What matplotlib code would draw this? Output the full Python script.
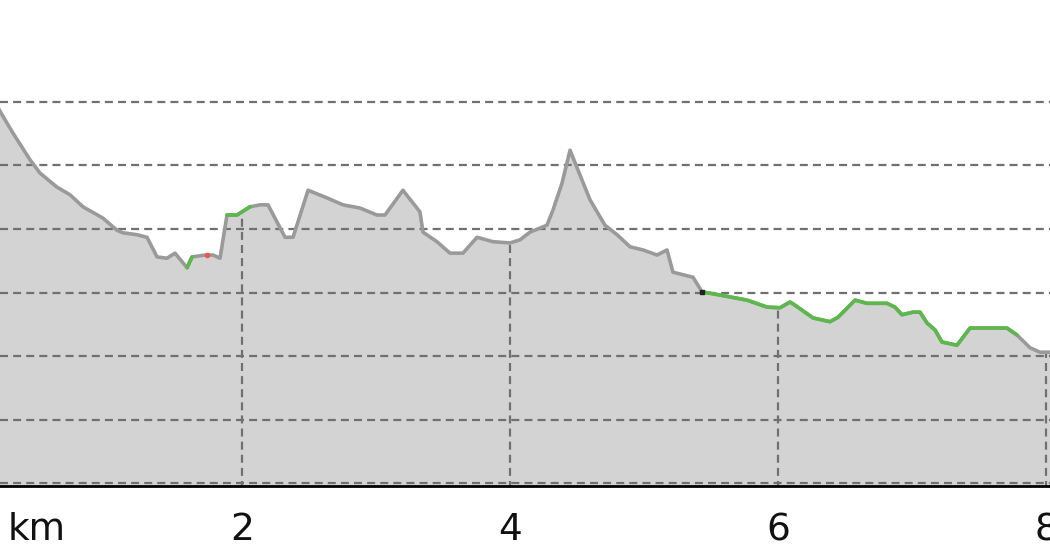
import numpy as np
import matplotlib
matplotlib.use("Agg")
import matplotlib.pyplot as plt

# elevation profile
km = [0.18, 0.209, 0.291, 0.418, 0.493, 0.619, 0.716, 0.813, 0.963, 1.067, 1.112,
      1.216, 1.291, 1.366, 1.440, 1.500, 1.590, 1.627, 1.724, 1.784, 1.836, 1.888,
      1.963, 2.060, 2.134, 2.194, 2.321, 2.381, 2.493, 2.634, 2.754, 2.881, 3.007,
      3.067, 3.201, 3.328, 3.351, 3.455, 3.552, 3.649, 3.754, 3.873, 4.000, 4.075,
      4.149, 4.276, 4.321, 4.388, 4.448, 4.507, 4.597, 4.709, 4.799, 4.896, 4.993,
      5.097, 5.172, 5.216, 5.366, 5.433, 5.567, 5.769, 5.918, 6.015, 6.090, 6.127,
      6.261, 6.388, 6.448, 6.575, 6.664, 6.813, 6.873, 6.925, 7.007, 7.060, 7.112,
      7.172, 7.224, 7.336, 7.433, 7.709, 7.784, 7.881, 7.955, 8.03, 8.10]
elev = [59.1, 58.0, 55.1, 50.9, 48.8, 46.6, 45.4, 43.5, 41.7, 39.8, 39.4,
        39.1, 38.7, 35.6, 35.4, 36.2, 33.9, 35.6, 35.9, 35.9, 35.4, 42.2,
        42.2, 43.5, 43.8, 43.8, 38.7, 38.7, 46.1, 44.9, 43.8, 43.3, 42.2,
        42.2, 46.1, 42.7, 39.5, 38.0, 36.2, 36.2, 38.7, 38.0, 37.8, 38.3,
        39.5, 40.6, 43.0, 47.2, 52.4, 49.3, 44.6, 40.6, 39.1, 37.2, 36.7,
        35.9, 36.7, 33.2, 32.4, 30.1, 29.6, 28.8, 27.7, 27.6, 28.5, 28.0,
        26.0, 25.4, 26.1, 28.8, 28.3, 28.3, 27.7, 26.5, 26.9, 26.9, 25.2,
        24.1, 22.2, 21.7, 24.4, 24.4, 23.3, 21.3, 20.6, 20.6, 20.5]
green_ranges = [(1.59, 1.627), (1.888, 2.06), (5.433, 7.784)]
red_km = 1.739
black_km = 5.433
grid_levels = [0, 10, 20, 30, 40, 50, 60]
xticks = [2, 4, 6, 8]

km = np.array(km)
elev = np.array(elev)

fig = plt.figure(figsize=(10.5, 5.6), dpi=100)
ax = fig.add_axes([0, 74 / 560, 1, 486 / 560])
ax.set_xlim(0.194, 8.03)
ax.set_ylim(-0.47, 76.06)

dash = (0, (3.6, 2.3))
ax.fill_between(km, -5, elev, color='#d3d3d3', lw=0, zorder=1)
for g in grid_levels:
    ax.axhline(g, color='#707070', lw=1.6, ls=dash, zorder=2)
for k in xticks:
    ax.vlines(k, -1, np.interp(k, km, elev), color='#707070', lw=1.6,
              ls=dash, zorder=2)

ax.plot(km, elev, color='#9a9a9a', lw=2.6, zorder=3, solid_joinstyle='round')
for a, b in green_ranges:
    m = (km >= a - 1e-6) & (km <= b + 1e-6)
    ax.plot(km[m], elev[m], color='#5cb84a', lw=2.6, zorder=4,
            solid_joinstyle='round', solid_capstyle='round')
ax.plot([red_km], [np.interp(red_km, km, elev)], 'o', color='#ee5555', ms=3, zorder=5)
ax.plot([black_km], [np.interp(black_km, km, elev)], 's', color='#222222', ms=2.5, zorder=5)

for s in ['top', 'left', 'right']:
    ax.spines[s].set_visible(False)
ax.spines['bottom'].set_linewidth(2)
ax.spines['bottom'].set_zorder(6)
ax.set_yticks([])
ax.set_xticks(xticks)
ax.set_xticklabels([str(t) for t in xticks])
ax.tick_params(axis='x', length=0, pad=19, labelsize=27, colors='#111111')

fig.text(8 / 1050, 1 - 540 / 560, 'km', fontsize=27, color='#111111', va='baseline')

fig.savefig('out.png', dpi=100)
